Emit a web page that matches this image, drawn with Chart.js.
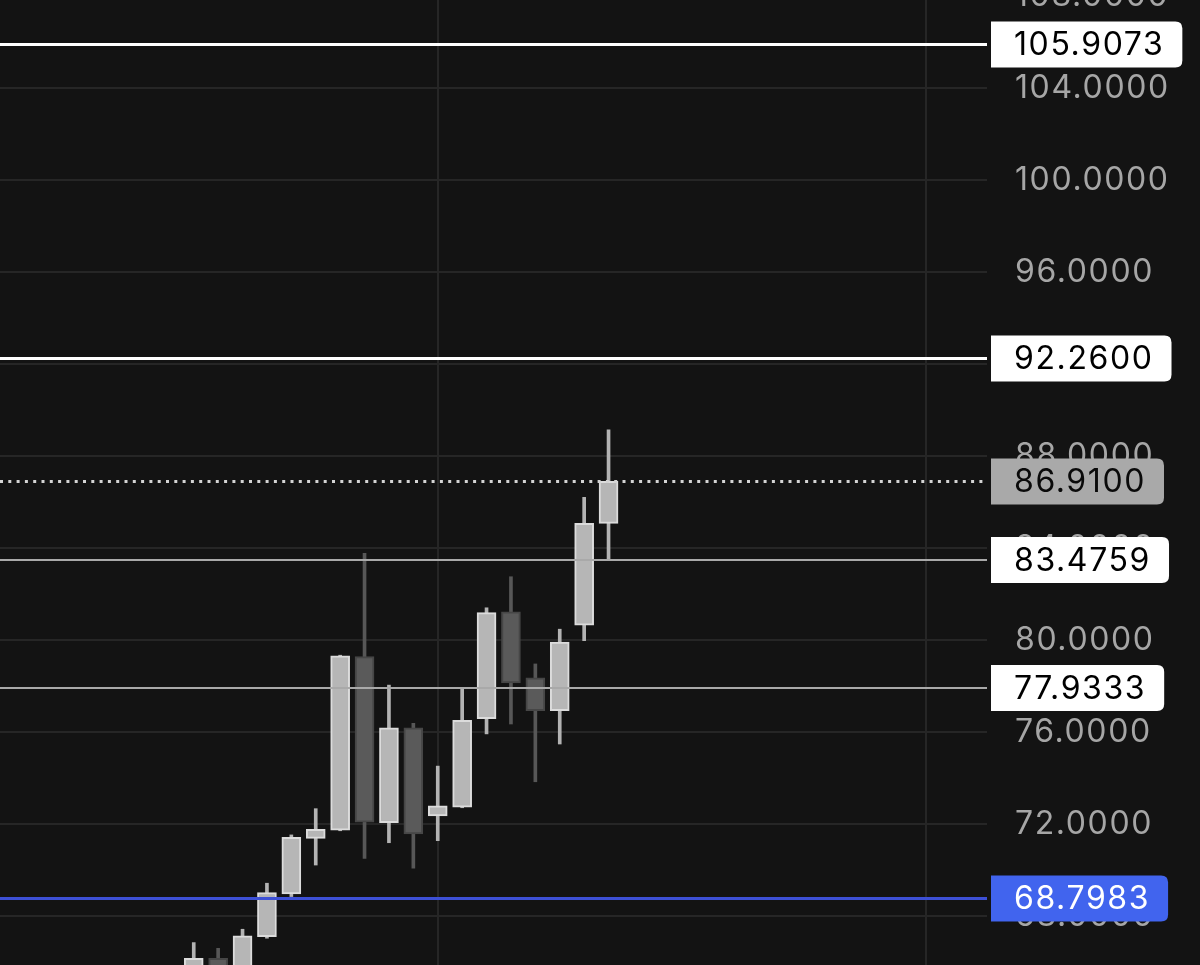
<!DOCTYPE html>
<html>
<head>
<meta charset="utf-8">
<title>Candles</title>
<script src="https://cdn.jsdelivr.net/npm/chart.js@4.4.1/dist/chart.umd.min.js"></script>
<style>
  html, body { margin: 0; padding: 0; width: 1200px; height: 965px; background: #131313; overflow: hidden; }
  /* chart is a crop of a slightly taller view, so the top/bottom ticks show half cut */
  #wrap { position: absolute; left: 0; top: -40px; width: 1200px; height: 1045px; }
</style>
</head>
<body>
<div id="wrap"><canvas id="priceChart"></canvas></div>
<script>
'use strict';

// candle data (index = bar number)
const candleIndex = [0, 1, 2, 3, 4, 5, 6, 7, 8, 9, 10, 11, 12, 13, 14, 15, 16, 17];
const opens  = [65.40, 66.18, 65.50, 67.12, 68.97, 71.39, 71.75, 79.29, 72.07, 76.19, 72.37, 72.75, 76.59, 81.24, 78.37, 76.94, 80.66, 85.08];
const highs  = [66.86, 66.61, 67.44, 69.44, 71.54, 72.68, 79.35, 83.78, 78.05, 76.39, 74.53, 77.87, 81.41, 82.76, 78.97, 80.48, 86.21, 89.14];
const lows   = [64.90, 64.90, 65.20, 67.05, 68.86, 70.23, 71.72, 70.52, 71.20, 70.09, 71.29, 72.72, 75.93, 76.36, 73.85, 75.49, 79.98, 83.49];
const closes = [66.18, 65.30, 67.15, 69.03, 71.44, 71.78, 79.32, 72.09, 76.19, 71.58, 72.80, 76.52, 81.20, 78.15, 76.94, 79.92, 85.08, 86.91];

// axis ticks
const priceTicks = [68, 72, 76, 80, 84, 88, 92, 96, 100, 104, 108];
const timeTicks = [-10, 10, 30];

// horizontal price levels
const levelValues = [105.9073, 92.26, 86.91, 83.4759, 77.9333, 68.7983];
const levelLabels = levelValues.map(v => v.toFixed(4));

const levelStyles = [
    { line: '#ffffff', width: 3, dash: [], box: '#ffffff', text: '#000000' },
    { line: '#ffffff', width: 3, dash: [], box: '#ffffff', text: '#000000' },
    { line: '#d4d4d4', width: 3, dash: [3, 5.3], box: '#a9a9a9', text: '#0a0a0a' },
    { line: '#a9a9a9', width: 2, dash: [], box: '#ffffff', text: '#000000' },
    { line: '#a9a9a9', width: 2, dash: [], box: '#ffffff', text: '#000000' },
    { line: '#3d50d6', width: 3, dash: [], box: '#4164ee', text: '#ffffff' }
];

const colors = {
    upFill: '#b6b6b6',
    upEdge: '#dcdcdc',
    upWick: '#b3b3b3',
    downFill: '#5a5a5a',
    downEdge: '#464646',
    downWick: '#575757',
    grid: '#262626',
    tick: '#a6a6a6'
};

const FONT = 'Inter, "Noto Sans", sans-serif';
const LETTER_SPACING = '1.6px';

const isUp = candleIndex.map(i => closes[i] >= opens[i]);

// 가격 레벨 라인 + 라벨
function roundRightBox(ctx, x, y, w, h, r) {
    ctx.beginPath();
    ctx.moveTo(x, y);
    ctx.lineTo(x + w - r, y);
    ctx.quadraticCurveTo(x + w, y, x + w, y + r);
    ctx.lineTo(x + w, y + h - r);
    ctx.quadraticCurveTo(x + w, y + h, x + w - r, y + h);
    ctx.lineTo(x, y + h);
    ctx.closePath();
}

const spacingPlugin = {
    id: 'letterSpacing',
    beforeDraw(chart) {
        chart.ctx.letterSpacing = LETTER_SPACING;
    }
};

const levelPlugin = {
    id: 'priceLevels',
    afterDraw(chart) {
        const { ctx, chartArea, scales } = chart;
        const yScale = scales.y;
        ctx.save();
        ctx.letterSpacing = LETTER_SPACING;
        ctx.font = '32px ' + FONT;
        ctx.textBaseline = 'middle';
        levelValues.forEach((v, i) => {
            const st = levelStyles[i];
            const py = Math.round(yScale.getPixelForValue(v)) + (st.width % 2 ? 0.5 : 0);

            ctx.beginPath();
            ctx.setLineDash(st.dash);
            ctx.lineWidth = st.width;
            ctx.strokeStyle = st.line;
            ctx.moveTo(chartArea.left, py);
            ctx.lineTo(chartArea.right, py);
            ctx.stroke();
            ctx.setLineDash([]);

            const text = levelLabels[i];
            const w = ctx.measureText(text).width + 41;
            const h = 46;
            const bx = chartArea.right + 4;
            roundRightBox(ctx, bx, py - h / 2, w, h, 7);
            ctx.fillStyle = st.box;
            ctx.fill();
            ctx.fillStyle = st.text;
            ctx.fillText(text, bx + 23, py + 1);
        });
        ctx.restore();
    }
};

document.addEventListener('DOMContentLoaded', () => {
    new Chart(document.getElementById('priceChart'), {
        type: 'bar',
        data: {
            datasets: [
                {
                    label: 'body',
                    data: candleIndex.map(i => ({ x: i, y: [opens[i], closes[i]] })),
                    order: 1,
                    grouped: false,
                    barThickness: 19,
                    backgroundColor: isUp.map(u => u ? colors.upFill : colors.downFill),
                    borderColor: isUp.map(u => u ? colors.upEdge : colors.downEdge),
                    borderWidth: 2,
                    borderSkipped: false
                },
                {
                    label: 'wick',
                    data: candleIndex.map(i => ({ x: i, y: [lows[i], highs[i]] })),
                    order: 2,
                    grouped: false,
                    barThickness: 3,
                    backgroundColor: isUp.map(u => u ? colors.upWick : colors.downWick),
                    borderWidth: 0
                }
            ]
        },
        options: {
            responsive: true,
            maintainAspectRatio: false,
            animation: false,
            layout: { padding: 0 },
            plugins: {
                legend: { display: false },
                tooltip: { enabled: false }
            },
            scales: {
                x: {
                    type: 'linear',
                    min: -7.94,
                    max: 32.51,
                    offset: false,
                    grid: { color: colors.grid, lineWidth: 2, drawTicks: false, offset: false },
                    border: { display: false },
                    ticks: { display: false },
                    afterBuildTicks: s => { s.ticks = timeTicks.map(v => ({ value: v })); },
                    afterFit: s => { s.height = 0; }
                },
                y: {
                    type: 'linear',
                    position: 'right',
                    min: 64.1478,
                    max: 109.5628,
                    grid: { color: colors.grid, lineWidth: 2, drawTicks: false },
                    border: { display: false },
                    ticks: {
                        padding: 28,
                        color: colors.tick,
                        font: { family: FONT, size: 32 },
                        callback: v => Number(v).toFixed(4)
                    },
                    afterBuildTicks: s => { s.ticks = priceTicks.map(v => ({ value: v })); },
                    afterFit: s => { s.width = 213; s.paddingTop = 0; s.paddingBottom = 0; }
                }
            }
        },
        plugins: [spacingPlugin, levelPlugin]
    });
});
</script>
</body>
</html>
